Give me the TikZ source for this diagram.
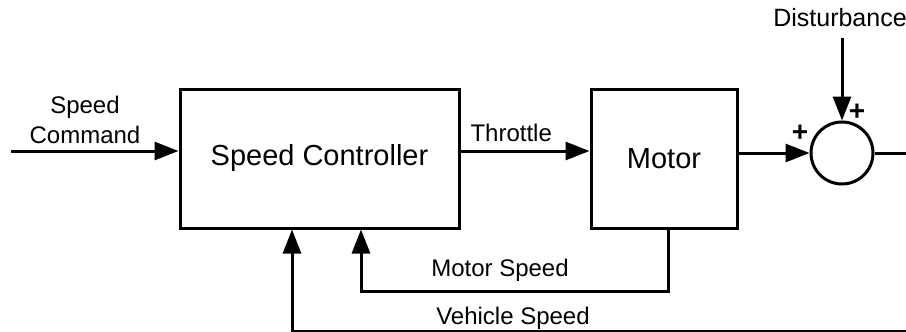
\documentclass[tikz,border=0pt]{standalone}
\usepackage{fontspec}
\setmainfont{Liberation Sans}
\usetikzlibrary{arrows.meta}

\tikzset{
  block/.style={draw, inner sep=0pt, minimum height=69.5pt, font=\fontsize{14.5}{17}\selectfont},
  sumnode/.style={draw, circle, inner sep=0pt, minimum size=31pt},
  lbl/.style={inner sep=0pt, font=\fontsize{12}{15}\selectfont},
  sign/.style={inner sep=0pt, font=\fontsize{14}{16}\selectfont\bfseries}
}

\begin{document}
\begin{tikzpicture}[>={Triangle[length=12pt,width=9pt]}, line width=1.5pt, x=0.5pt, y=-0.5pt]
  \useasboundingbox (0,0) rectangle (906,332);

  % blocks
  \node[block, minimum width=139.5pt] (ctrl) at (319.5,158.5) {Speed Controller};
  \node[block, minimum width=73pt] (motor) at (664,158.5) {Motor};
  \node[sumnode] (sum) at (842,153) {};

  % free ends
  \coordinate (cmdin) at (11,151);
  \coordinate (distin) at (842,38);
  \coordinate (out) at (906,153);
  \coordinate (msdrop) at (668,291);
  \coordinate (ms) at (361,291);
  \coordinate (vs) at (292,331.5);
  \coordinate (vsend) at (906,331.5);

  % forward path
  \draw[->] (cmdin) -- (cmdin -| ctrl.west);
  \draw[->] (ctrl.east |- cmdin) -- (motor.west |- cmdin);
  \draw[->] (motor.east |- sum) -- (sum.west);
  \draw[->] (distin) -- (sum.north);
  \draw (sum.east) -- (out);

  % feedback
  \draw[->] (msdrop |- motor.south) -- (msdrop) -- (ms) -- (ms |- ctrl.south);
  \draw[->] (vsend) -- (vs) -- (vs |- ctrl.south);

  % labels
  \node[lbl, align=center] (cmd) at (85,120) {Speed\\Command};
  \node[lbl, anchor=west] (thr) at (469,133) {Throttle};
  \node[lbl, font=\fontsize{12.5}{15}\selectfont] (dist) at (840,18) {Disturbance};
  \node[lbl] (mslbl) at (500,270) {Motor Speed};
  \node[lbl] (vslbl) at (513,318) {Vehicle Speed};
  \node[sign] (p1) at (857,112) {+};
  \node[sign] (p2) at (800,133) {+};
\end{tikzpicture}
\end{document}
